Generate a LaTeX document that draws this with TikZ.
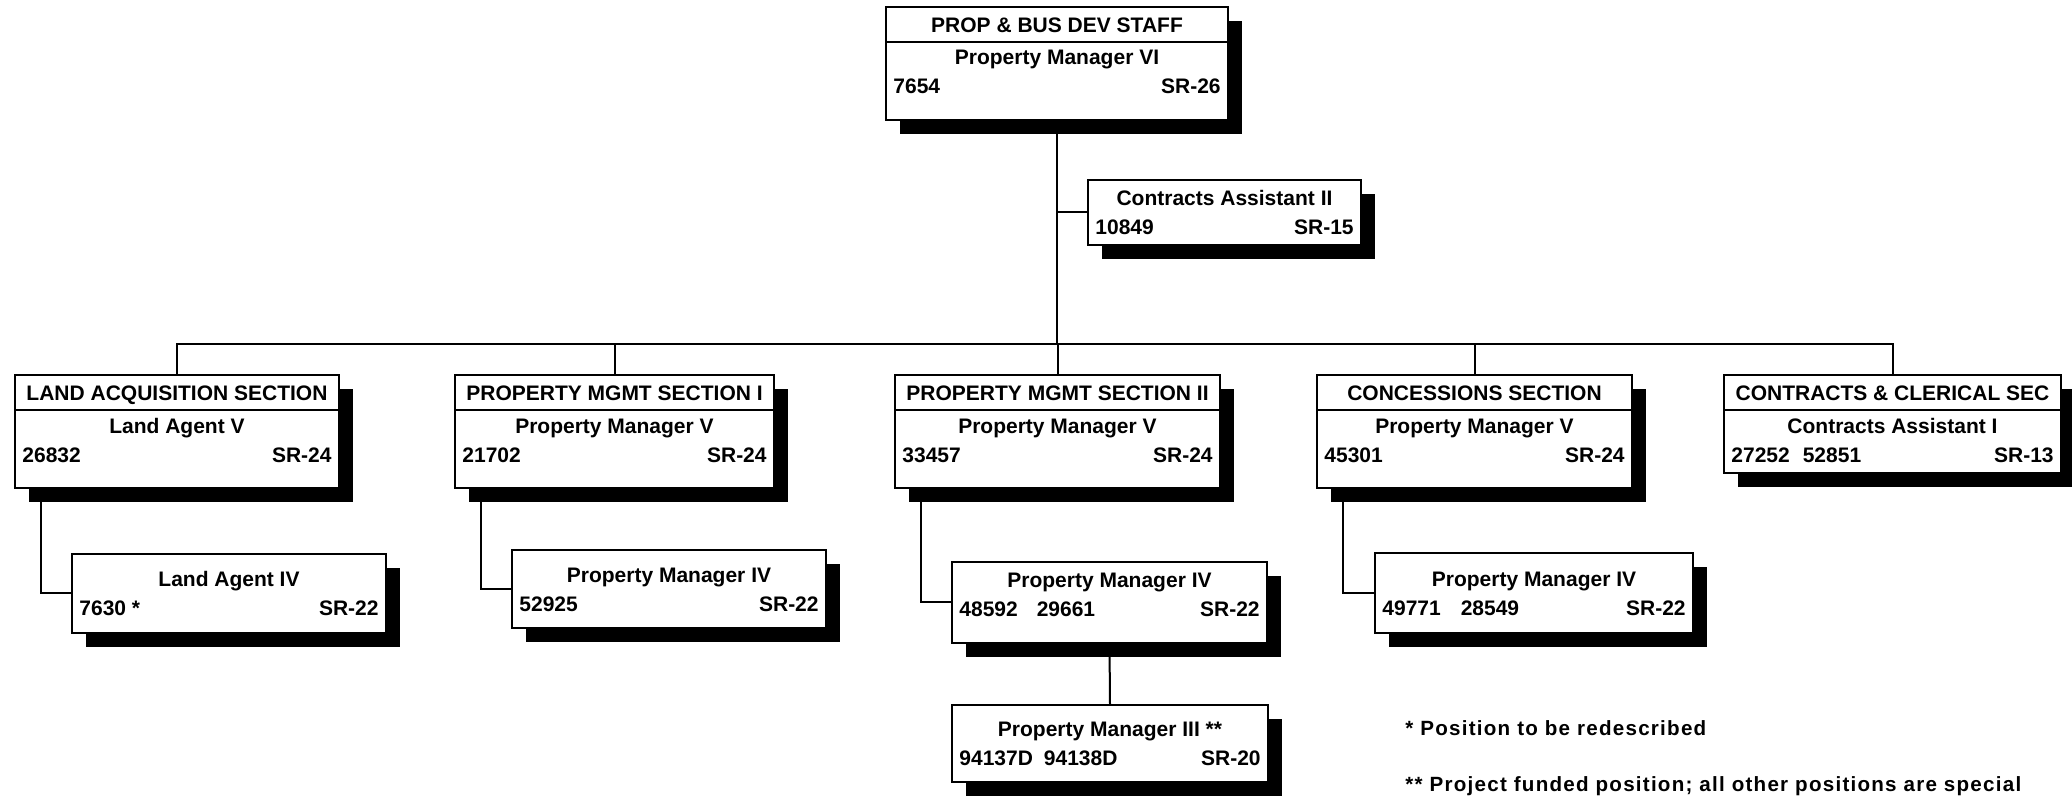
\documentclass[tikz,border=0pt]{standalone}
\usepackage{fontspec}
\setmainfont{Liberation Sans}
\newfontfamily\notefont[LetterSpace=6]{Liberation Sans}
\usepackage{tikz}
\usetikzlibrary{calc,fit,shadows}
\tikzstyle{posbox}=[draw, line width=0.9pt, fill=white, inner sep=0pt, outer sep=0pt, drop shadow={shadow xshift=7pt, shadow yshift=-7pt, opacity=1, fill=black}]
\tikzstyle{boxtext}=[inner sep=0pt, font=\bfseries\fontsize{10.5}{12}\selectfont]
\tikzstyle{notetext}=[inner sep=0pt, font=\notefont\bfseries\fontsize{10.3}{12}\selectfont]
\tikzstyle{link}=[line width=1pt]
\newcommand{\posBox}[9]{
	\node[posbox, fit={(#2,#3) (#4,#5)}] (#1) {};
	\node[boxtext, anchor=base] (#1t) at ($(#1.north)+(0,#6)$) {#7};
	\node[boxtext, anchor=base west] (#1n) at ($(#1.north west)+(7,#6+29)$) {#8};
	\node[boxtext, anchor=base east] (#1g) at ($(#1.north east)+(-7,#6+29)$) {#9};
}
\newcommand{\headRow}[2]{
	\draw[link] ($(#1.north west)+(0,35)$) -- ($(#1.north east)+(0,35)$);
	\node[boxtext, anchor=base] (#1h) at ($(#1.north)+(0,26)$) {#2};
}

\begin{document}
\begin{tikzpicture}[x=0.5pt, y=-0.5pt]
	\useasboundingbox (0,0) rectangle (2072,801);
	\posBox{top}{886}{7}{1228}{120}{58}{Property Manager VI}{7654}{SR-26}
	\headRow{top}{PROP \& BUS DEV STAFF}
	\posBox{ca2}{1088}{180}{1361}{245}{26}{Contracts Assistant II}{10849}{SR-15}
	\posBox{la}{15}{375}{339}{488}{59}{Land Agent V}{26832}{SR-24}
	\headRow{la}{LAND ACQUISITION SECTION}
	\posBox{pm1}{455}{375}{774}{488}{59}{Property Manager V}{21702}{SR-24}
	\headRow{pm1}{PROPERTY MGMT SECTION I}
	\posBox{pm2}{895}{375}{1220}{488}{59}{Property Manager V}{33457}{SR-24}
	\headRow{pm2}{PROPERTY MGMT SECTION II}
	\posBox{con}{1317}{375}{1632}{488}{59}{Property Manager V}{45301}{SR-24}
	\headRow{con}{CONCESSIONS SECTION}
	\posBox{cc}{1724}{375}{2061}{473}{59}{Contracts Assistant I}{27252\hspace{6.5pt}52851}{SR-13}
	\headRow{cc}{CONTRACTS \& CLERICAL SEC}
	\posBox{la4}{72}{554}{386}{633}{33}{Land Agent IV}{7630 *}{SR-22}
	\posBox{pm1s}{512}{550}{826}{628}{32}{Property Manager IV}{52925}{SR-22}
	\posBox{pm2s}{952}{562}{1267}{643}{26}{Property Manager IV}{48592\hspace{9.5pt}29661}{SR-22}
	\posBox{cons}{1375}{553}{1693}{633}{34}{Property Manager IV}{49771\hspace{10pt}28549}{SR-22}
	\posBox{pm3}{952}{705}{1268}{782}{31}{Property Manager III **}{94137D\hspace{5.5pt}94138D}{SR-20}
	\coordinate (bus) at (0,344);
	\draw[link] (top.south) -- (top.south |- bus);
	\draw[link] (top.south |- ca2.west) -- (ca2.west);
	\draw[link] (la.north) -- (la.north |- bus) -- (cc.north |- bus) -- (cc.north);
	\foreach \s in {pm1,pm2,con}
		\draw[link] (\s.north) -- (\s.north |- bus);
	\draw[link] ($(la.south west)+(26,0)$) |- (la4.west);
	\draw[link] ($(pm1.south west)+(26,0)$) |- (pm1s.west);
	\draw[link] ($(pm2.south west)+(26,0)$) |- (pm2s.west);
	\draw[link] ($(con.south west)+(26,0)$) |- (cons.west);
	\draw[link] (pm2s.south) -- (pm3.north);
	\node[notetext, anchor=base west] (note1) at (1405,735) {* Position to be redescribed};
	\node[notetext, anchor=base west] (note2) at (1405,791) {** Project funded position; all other positions are special};
\end{tikzpicture}
\end{document}
